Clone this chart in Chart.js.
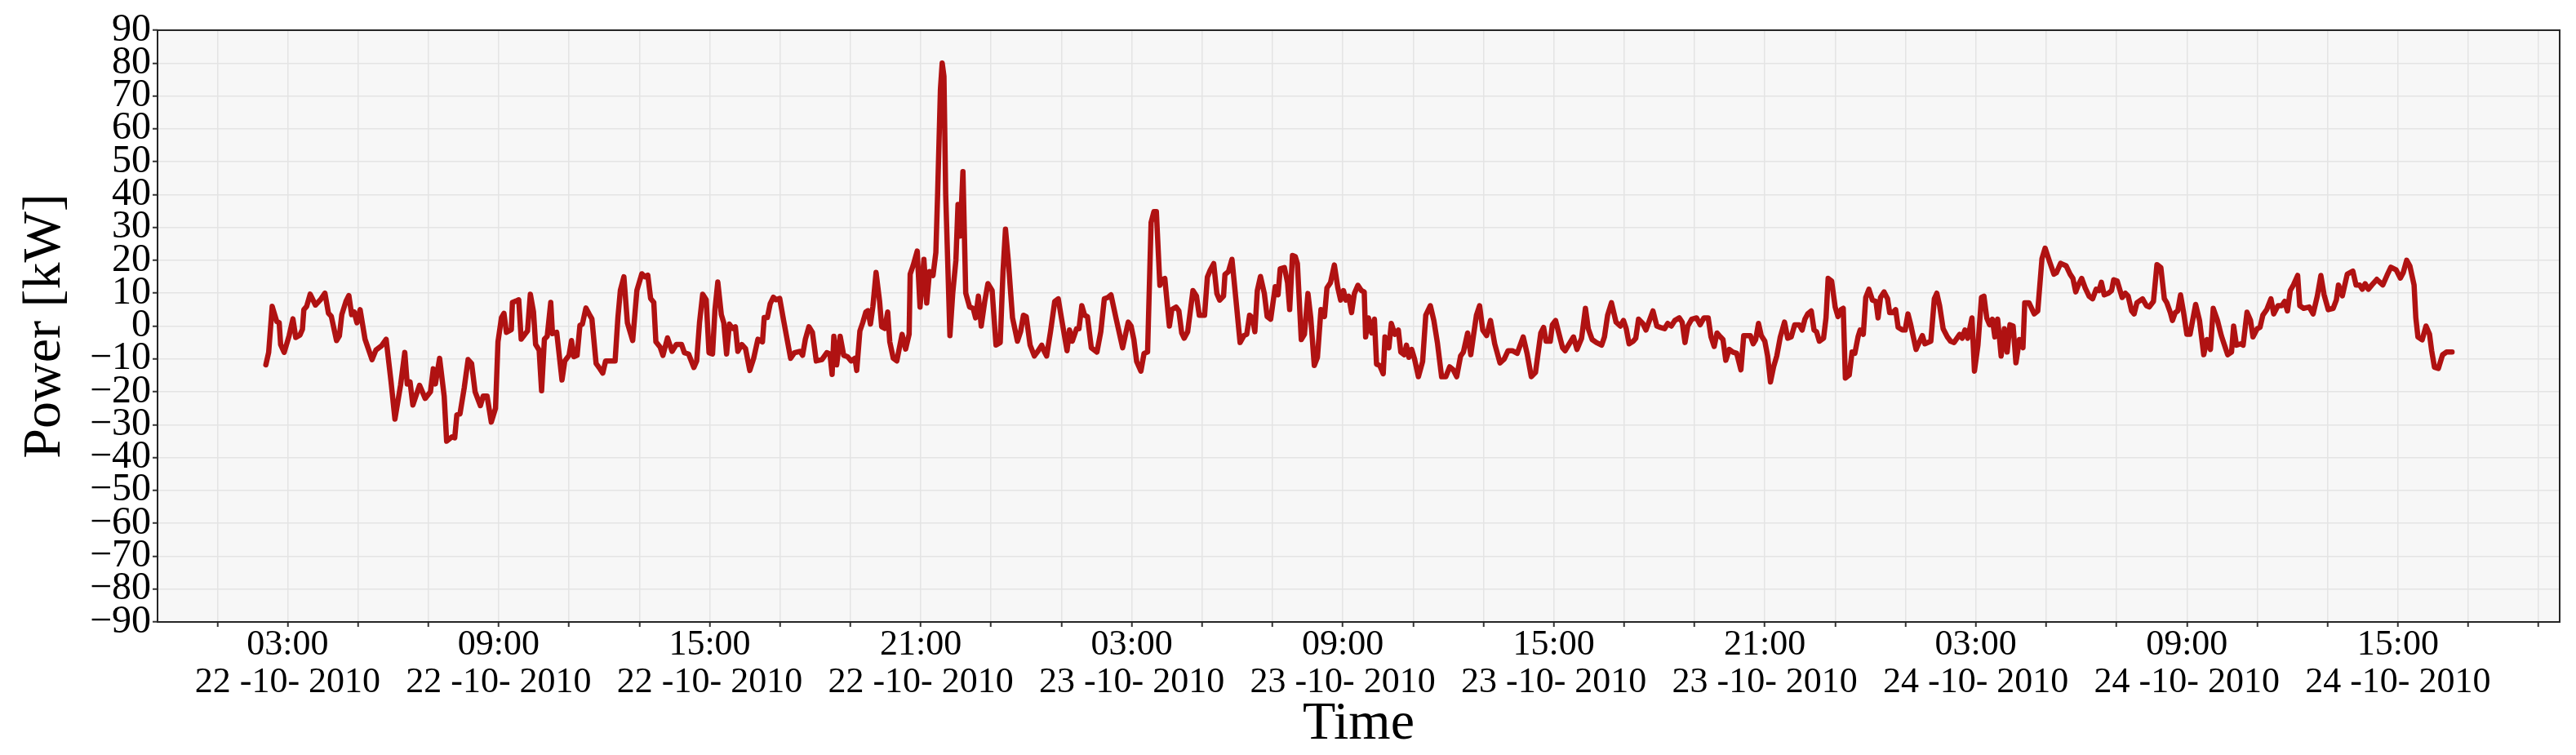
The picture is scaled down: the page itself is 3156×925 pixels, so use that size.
<!DOCTYPE html>
<html>
<head>
<meta charset="utf-8">
<script src="https://cdn.jsdelivr.net/npm/chart.js@4.4.0/dist/chart.umd.min.js"></script>
<style>
  html, body { margin: 0; padding: 0; background: #ffffff; }
  #wrap { width: 3156px; height: 925px; }
</style>
</head>
<body>
<div id="wrap"><canvas id="myChart" width="3156" height="925"></canvas></div>
<script>
// hours counted from 22-10-2010 00:00
const hours = [
  2.38, 2.46, 2.56, 2.69, 2.76, 2.80, 2.90, 3.04, 3.15, 3.23, 3.35, 3.42, 3.46, 3.54, 3.64, 3.79, 3.93, 4.06, 4.16, 4.24,
  4.39, 4.47, 4.54, 4.66, 4.74, 4.82, 4.89, 4.97, 5.06, 5.20, 5.40, 5.51, 5.67, 5.80, 5.94, 6.05, 6.21, 6.33, 6.40, 6.48,
  6.56, 6.75, 6.91, 7.06, 7.14, 7.20, 7.32, 7.45, 7.52, 7.67, 7.75, 7.81, 7.90, 8.02, 8.13, 8.23, 8.33, 8.48, 8.56, 8.67,
  8.79, 8.91, 8.98, 9.08, 9.15, 9.22, 9.36, 9.39, 9.49, 9.57, 9.64, 9.76, 9.82, 9.90, 9.99, 10.05, 10.15, 10.22, 10.30, 10.38,
  10.48, 10.53, 10.65, 10.80, 10.88, 11.00, 11.07, 11.14, 11.23, 11.31, 11.38, 11.48, 11.58, 11.65, 11.77, 11.88, 11.96, 12.04, 12.19, 12.31,
  12.39, 12.46, 12.56, 12.66, 12.81, 12.93, 13.07, 13.16, 13.24, 13.32, 13.41, 13.47, 13.59, 13.67, 13.80, 13.93, 14.05, 14.20, 14.28, 14.40,
  14.55, 14.63, 14.71, 14.80, 14.90, 14.98, 15.08, 15.15, 15.23, 15.33, 15.40, 15.48, 15.56, 15.65, 15.73, 15.80, 15.91, 16.02, 16.14, 16.25,
  16.37, 16.50, 16.55, 16.64, 16.72, 16.81, 16.89, 16.99, 17.10, 17.30, 17.41, 17.57, 17.64, 17.72, 17.82, 17.92, 18.03, 18.19, 18.33, 18.42,
  18.48, 18.53, 18.61, 18.71, 18.81, 18.92, 19.02, 19.13, 19.18, 19.27, 19.35, 19.44, 19.50, 19.57, 19.64, 19.73, 19.83, 19.89, 19.98, 20.06,
  20.12, 20.22, 20.32, 20.47, 20.57, 20.67, 20.70, 20.78, 20.90, 20.98, 21.09, 21.17, 21.25, 21.35, 21.43, 21.48, 21.56, 21.61, 21.66, 21.71,
  21.83, 21.91, 22.00, 22.06, 22.12, 22.20, 22.28, 22.39, 22.49, 22.56, 22.64, 22.72, 22.82, 22.91, 23.03, 23.14, 23.26, 23.34, 23.41, 23.49,
  23.61, 23.75, 23.84, 23.92, 24.00, 24.11, 24.23, 24.34, 24.44, 24.52, 24.58, 24.69, 24.81, 24.91, 25.00, 25.16, 25.23, 25.31, 25.43, 25.50,
  25.58, 25.66, 25.74, 25.85, 26.01, 26.12, 26.22, 26.32, 26.41, 26.55, 26.74, 26.90, 26.98, 27.06, 27.14, 27.26, 27.35, 27.45, 27.55, 27.63,
  27.70, 27.80, 27.86, 27.94, 28.07, 28.14, 28.26, 28.34, 28.42, 28.49, 28.59, 28.74, 28.84, 28.92, 29.07, 29.15, 29.23, 29.33, 29.42, 29.50,
  29.61, 29.65, 29.75, 29.85, 29.96, 30.08, 30.19, 30.27, 30.35, 30.43, 30.50, 30.57, 30.66, 30.77, 30.85, 30.95, 31.08, 31.16, 31.22, 31.34,
  31.43, 31.49, 31.57, 31.65, 31.71, 31.82, 31.91, 32.01, 32.09, 32.19, 32.28, 32.38, 32.48, 32.55, 32.65, 32.76, 32.86, 32.94, 33.02, 33.09,
  33.17, 33.25, 33.33, 33.43, 33.53, 33.61, 33.65, 33.73, 33.82, 33.90, 33.96, 34.05, 34.15, 34.20, 34.31, 34.38, 34.48, 34.58, 34.65, 34.75,
  34.81, 34.88, 34.96, 35.04, 35.15, 35.27, 35.36, 35.49, 35.59, 35.69, 35.81, 35.93, 36.04, 36.14, 36.24, 36.35, 36.43, 36.55, 36.64, 36.70,
  36.80, 36.89, 36.98, 37.09, 37.20, 37.32, 37.47, 37.59, 37.70, 37.82, 37.96, 38.13, 38.24, 38.36, 38.48, 38.63, 38.71, 38.78, 38.90, 38.96,
  39.05, 39.25, 39.32, 39.44, 39.56, 39.66, 39.79, 39.90, 39.98, 40.09, 40.21, 40.36, 40.44, 40.53, 40.64, 40.77, 40.89, 40.98, 41.06, 41.14,
  41.26, 41.33, 41.41, 41.53, 41.62, 41.72, 41.82, 41.93, 42.03, 42.15, 42.24, 42.34, 42.44, 42.57, 42.65, 42.73, 42.81, 42.92, 43.06, 43.16,
  43.27, 43.39, 43.47, 43.56, 43.64, 43.74, 43.81, 43.89, 43.99, 44.09, 44.20, 44.32, 44.40, 44.51, 44.59, 44.67, 44.74, 44.82, 44.90, 45.00,
  45.08, 45.16, 45.25, 45.34, 45.44, 45.56, 45.65, 45.75, 45.85, 45.98, 46.06, 46.14, 46.22, 46.32, 46.40, 46.47, 46.55, 46.67, 46.74, 46.80,
  46.90, 47.00, 47.08, 47.17, 47.23, 47.29, 47.40, 47.48, 47.56, 47.65, 47.71, 47.80, 47.87, 47.96, 48.06, 48.16, 48.22, 48.29, 48.39, 48.49,
  48.55, 48.64, 48.72, 48.79, 48.91, 48.99, 49.07, 49.14, 49.30, 49.37, 49.48, 49.55, 49.72, 49.82, 49.89, 49.97, 50.07, 50.19, 50.28, 50.38,
  50.54, 50.61, 50.69, 50.77, 50.89, 50.96, 51.06, 51.16, 51.23, 51.31, 51.39, 51.47, 51.54, 51.62, 51.72, 51.81, 51.89, 51.97, 52.06, 52.14,
  52.24, 52.34, 52.39, 52.51, 52.66, 52.76, 52.88, 52.97, 53.10, 53.22, 53.29, 53.41, 53.57, 53.68, 53.76, 53.84, 53.91, 54.01, 54.11, 54.22,
  54.32, 54.42, 54.50, 54.57, 54.65, 54.77, 54.86, 54.92, 55.02, 55.16, 55.25, 55.33, 55.43, 55.50, 55.58, 55.74, 55.85, 55.93, 56.05, 56.15,
  56.26, 56.36, 56.43, 56.53, 56.59, 56.67, 56.74, 56.82, 56.90, 57.00, 57.09, 57.25, 57.36, 57.48, 57.57, 57.67, 57.75, 57.87, 57.98, 58.16,
  58.27, 58.33, 58.41, 58.53, 58.60, 58.71, 58.81, 58.88, 59.00, 59.08, 59.16, 59.27, 59.39, 59.47, 59.59, 59.70, 59.78, 59.86, 59.94, 60.03,
  60.15, 60.21, 60.32, 60.48, 60.59, 60.71, 60.81, 60.90, 61.02, 61.16, 61.25, 61.31, 61.42, 61.56, 61.72, 61.81, 61.91, 61.99, 62.07, 62.16,
  62.26, 62.40, 62.57, 62.69, 62.80, 62.95, 63.07, 63.15, 63.25, 63.34, 63.46, 63.51, 63.57, 63.69, 63.80, 63.90, 63.96, 64.04, 64.15, 64.27,
  64.38, 64.54
];

// power in kW
const power = [
  -11.8, -8, 6, 1.4, 1, -5.6, -8, -3, 2.2, -3.5, -2.7, -1, 5, 6, 9.7, 6.4, 8, 10, 3.9, 3,
  -4.4, -3, 3.5, 7.6, 9.3, 3.5, 4.3, 1, 5, -4, -10.2, -7.3, -6, -4, -17, -28.3, -18, -8, -17.6, -17,
  -24, -18, -22, -20, -13, -17.6, -9.8, -21.3, -35, -33.7, -34, -27, -26.7, -18.8, -10.2, -11.4, -20, -24.2, -21.3, -21.3,
  -29.2, -25, -4.8, 2.6, 3.9, -1.9, -1.1, 7.2, 7.6, 8, -4, -2.3, -1.5, 9.7, 4.3, -5.6, -7.3, -19.7, -4, -3.1,
  7.2, -2.3, -1.9, -16.4, -10.6, -8.9, -4.4, -9.3, -8.9, 0.2, 0.6, 5.5, 3.5, 2.2, -11.4, -13, -14.3, -10.6, -10.6, -10.6,
  2.6, 10.9, 15, 1, -4.4, 10.9, 15.9, 15, 15.5, 8.4, 7.2, -4.8, -6.4, -8.9, -3.6, -7.7, -5.6, -5.6, -8.1, -8.5,
  -12.6, -10.6, 1, 9.7, 8, -8.1, -8.5, 5.1, 13.4, 3.5, 1, -8.5, 0.6, -0.7, -0.2, -7.7, -5.6, -6.9, -13.5, -9.8,
  -4, -4.8, 2.6, 2.6, 6.8, 8.8, 8, 8.4, 1.8, -9.8, -8.1, -7.7, -8.9, -4, -0.2, -1.9, -10.6, -10.2, -8.1, -8.5,
  -14.7, -3.1, -11.8, -3.1, -8.9, -9.3, -10.6, -9.8, -13.5, -1.5, 1, 4.3, 4.7, 0.6, 6, 16.3, 7.6, -0.2, -0.7, 4.3,
  -4.8, -9.8, -10.6, -2.5, -7, -2.5, 15.8, 18.3, 22.8, 5.8, 20.3, 7, 16.6, 15.4, 22.4, 40, 72, 80, 76, 40,
  -2.9, 10, 20, 37, 27.4, 47, 10, 5.8, 5.4, 2.5, 9.1, 0, 7.5, 12.9, 10.8, -5.8, -5, 16.6, 29.5, 19.9,
  2.5, -4.6, -1.7, 3.3, 2.9, -5.8, -9.1, -7.5, -5.8, -7.9, -9.1, -1.7, 7.5, 8.3, 2.5, -7.5, -1.2, -4.6, -0.8, -0.8,
  6.2, 3.3, 2.9, -6.6, -7.9, -1.7, 8.3, 8.7, 9.5, 2.5, -6.6, 1.2, 0, -4.1, -10.8, -13.7, -8.3, -7.9, 31.5, 34.8,
  34.8, 12.4, 14.1, 14.5, 0, 5, 5.8, 4.6, -2.1, -3.7, -1.7, 10.8, 9.1, 3.3, 3.3, 14.9, 17, 19, 9.9, 7.9,
  9.1, 15.7, 16.6, 20.3, 8.3, -5, -2.9, -2.5, 3.3, 2.5, -1.7, 10.8, 15.1, 9.9, 2.9, 2.1, 12, 9.5, 17.4, 17.8,
  13.2, 5, 21.5, 21.1, 19, -4.1, -2.5, 9.9, 2.5, -12, -9.5, 5, 2.9, 11.6, 13.2, 18.6, 11.6, 7.9, 10.8, 7.9,
  9.1, 4.1, 9.9, 12.4, 10.8, 10.4, -3.3, 2.5, -2.1, 2.1, -11.6, -12, -14.5, -3.3, -6.6, 0.8, -2.5, -1.2, -7.9, -8.7,
  -5.8, -9.5, -7.1, -10, -15.4, -10.8, 3.3, 6.2, 1.7, -5, -15.4, -15.4, -12.4, -13.3, -15.4, -9.1, -7.9, -2.1, -8.7, -4.1,
  3.3, 6.2, -1.2, -2.9, 1.7, -5.4, -11.2, -10, -7.5, -7.5, -8.3, -3.3, -8.3, -15.4, -14.1, -2.1, -0.4, -4.6, -4.6, 0.4,
  1.7, -6.6, -7.5, -5.4, -3.3, -7.1, -3.7, 5.4, -0.8, -4.1, -5, -5.8, -3.3, 3.3, 7.1, 1.2, 0, 1.7, -0.8, -5.4,
  -4.6, -3.7, 2.1, 0.8, -1.2, 1.7, 4.6, 0, -0.4, -0.8, 0.8, 0, 1.7, 2.5, 1.2, -5, 0, 2.1, 2.5, 0.4,
  2.5, 2.5, -3.3, -6.2, -2.1, -3.3, -4.1, -10.4, -7.1, -7.9, -8.3, -13.3, -2.9, -2.9, -2.9, -5.4, -4.1, 0.8, -2.9, -4.6,
  -9.1, -17, -12.4, -9.1, -3.3, 1.2, -3.7, -3.3, 0.4, 0.4, -1.2, 2.1, 3.7, 4.6, -1.2, -1.7, -4.6, -3.7, 2.5, 14.5,
  13.7, 5.8, 2.9, 5, 5.4, -15.8, -14.9, -7.9, -8.3, -3.3, -1.2, -2.5, 8.7, 11.2, 7.9, 7.5, 2.5, 8.7, 10.4, 8.3,
  4.1, 4.1, 5, -0.4, -1.2, -1.2, 3.7, 0.8, -7.1, -5.4, -2.9, -5.4, -4.6, 8.3, 10, 6.2, -0.8, -3.3, -4.6, -5,
  -2.5, -3.7, -1.2, -3.7, 2.5, -13.7, -5.8, 8.7, 9.1, 2.5, 0.4, 2.1, -3.3, 2.1, -9.1, -0.8, -7.9, 0.4, 0, -11.2,
  -4.1, -6.6, 7.1, 7.1, 3.7, 4.6, 20.5, 23.7, 19.5, 15.8, 16.2, 19.1, 18.3, 15.8, 14.5, 10.4, 12.4, 14.5, 11.6, 9.1,
  8.3, 11.2, 10.8, 13.3, 9.5, 10, 10.8, 14.1, 13.7, 8.7, 10, 9.1, 4.6, 3.7, 7.1, 8.3, 6.2, 5.8, 7.5, 18.7,
  17.8, 8.3, 7.1, 4.1, 1.7, 4.1, 4.6, 9.5, 4.6, -2.5, -2.5, 6.6, 1.7, -8.7, -4.1, -7.1, 5.4, 1.7, -2.9, -8.7,
  -7.9, 0, -5.8, -5.4, -5.8, 4.2, 1.7, -3.3, -0.8, -0.4, 3.3, 5, 8.3, 3.7, 6.2, 6.2, 7.5, 4.6, 10.8, 12.5,
  15.4, 6.2, 5.4, 5.8, 3.7, 9.2, 15.4, 9.6, 5, 5.4, 7.9, 12.5, 9.2, 15.8, 16.7, 12.5, 12.5, 11.2, 12.9, 11.2,
  12.5, 14.2, 12.5, 15.4, 17.9, 17.1, 14.6, 16.2, 20, 18.3, 12.5, 2.5, -3.3, -4.2, 0, -2.5, -7.5, -12.5, -12.9, -8.75,
  -7.9, -7.9
];

// tick positions (every 2 hours) and labelled ticks
const tickHours = [1, 3, 5, 7, 9, 11, 13, 15, 17, 19, 21, 23, 25, 27, 29, 31, 33, 35, 37, 39, 41, 43, 45, 47, 49, 51, 53, 55, 57, 59, 61, 63, 65, 67];
const labelHours = [3, 9, 15, 21, 27, 33, 39, 45, 51, 57, 63];
const labelTimes = ["03:00", "09:00", "15:00", "21:00", "03:00", "09:00", "15:00", "21:00", "03:00", "09:00", "15:00"];
const labelDates = ["22 -10- 2010", "22 -10- 2010", "22 -10- 2010", "22 -10- 2010", "23 -10- 2010", "23 -10- 2010",
                    "23 -10- 2010", "23 -10- 2010", "24 -10- 2010", "24 -10- 2010", "24 -10- 2010"];

const yTicks = [-90, -80, -70, -60, -50, -40, -30, -20, -10, 0, 10, 20, 30, 40, 50, 60, 70, 80, 90];

const serif = "'Liberation Serif', 'Times New Roman', serif";

/* fondo gris y marco del area */
const plotFrame = {
  id: "plotFrame",
  beforeDraw(chart) {
    const { ctx, chartArea: a } = chart;
    ctx.save();
    ctx.fillStyle = "#f7f7f7";
    ctx.fillRect(a.left, a.top, a.right - a.left, a.bottom - a.top);
    ctx.restore();
  },
  afterDraw(chart) {
    const { ctx, chartArea: a } = chart;
    ctx.save();
    ctx.strokeStyle = "#262626";
    ctx.lineWidth = 2;
    ctx.strokeRect(a.left, a.top, a.right - a.left, a.bottom - a.top);
    ctx.restore();
  }
};

const points = hours.map((h, i) => ({ x: h, y: power[i] }));

const ctx = document.getElementById("myChart").getContext("2d");
const myChart = new Chart(ctx, {
  type: "line",
  data: {
    datasets: [{
      data: points,
      borderColor: "#b01212",
      borderWidth: 6.5,
      pointRadius: 0,
      tension: 0,
      borderJoinStyle: "round",
      borderCapStyle: "round"
    }]
  },
  options: {
    responsive: false,
    animation: false,
    devicePixelRatio: 1,
    layout: { padding: { top: 37, right: 20, left: 0, bottom: 0 } },
    plugins: { legend: { display: false }, tooltip: { enabled: false } },
    scales: {
      x: {
        type: "linear",
        min: -0.7,
        max: 67.6,
        afterFit(scale) { scale.height = 163; },
        afterBuildTicks(scale) { scale.ticks = tickHours.map(v => ({ value: v })); },
        border: { display: false },
        grid: { color: "#e4e4e4", lineWidth: 1.5, tickLength: 6, tickColor: "#333333", tickWidth: 2 },
        ticks: {
          autoSkip: false,
          maxRotation: 0,
          padding: 0,
          color: "#000000",
          font: { family: serif, size: 44, lineHeight: 1.04 },
          callback(value) {
            const k = labelHours.indexOf(value);
            return k < 0 ? "" : [labelTimes[k], labelDates[k]];
          }
        },
        title: {
          display: true,
          text: "Time",
          color: "#000000",
          font: { family: serif, size: 66, lineHeight: 1.0 },
          padding: { top: 0, bottom: 4 }
        }
      },
      y: {
        min: -90,
        max: 90,
        afterFit(scale) { scale.width = 193; },
        afterBuildTicks(scale) { scale.ticks = yTicks.map(v => ({ value: v })); },
        border: { display: false },
        grid: { color: "#e4e4e4", lineWidth: 1.5, tickLength: 6, tickColor: "#333333", tickWidth: 2 },
        ticks: {
          autoSkip: false,
          padding: 2,
          color: "#000000",
          font: { family: serif, size: 48, lineHeight: 1.0 },
          callback(value) { return value < 0 ? "\u2212" + Math.abs(value) : String(value); }
        },
        title: {
          display: true,
          text: "Power [kW]",
          color: "#000000",
          font: { family: serif, size: 66, lineHeight: 1.0 },
          padding: { top: 23, bottom: 0 }
        }
      }
    }
  },
  plugins: [plotFrame]
});
</script>
</body>
</html>
